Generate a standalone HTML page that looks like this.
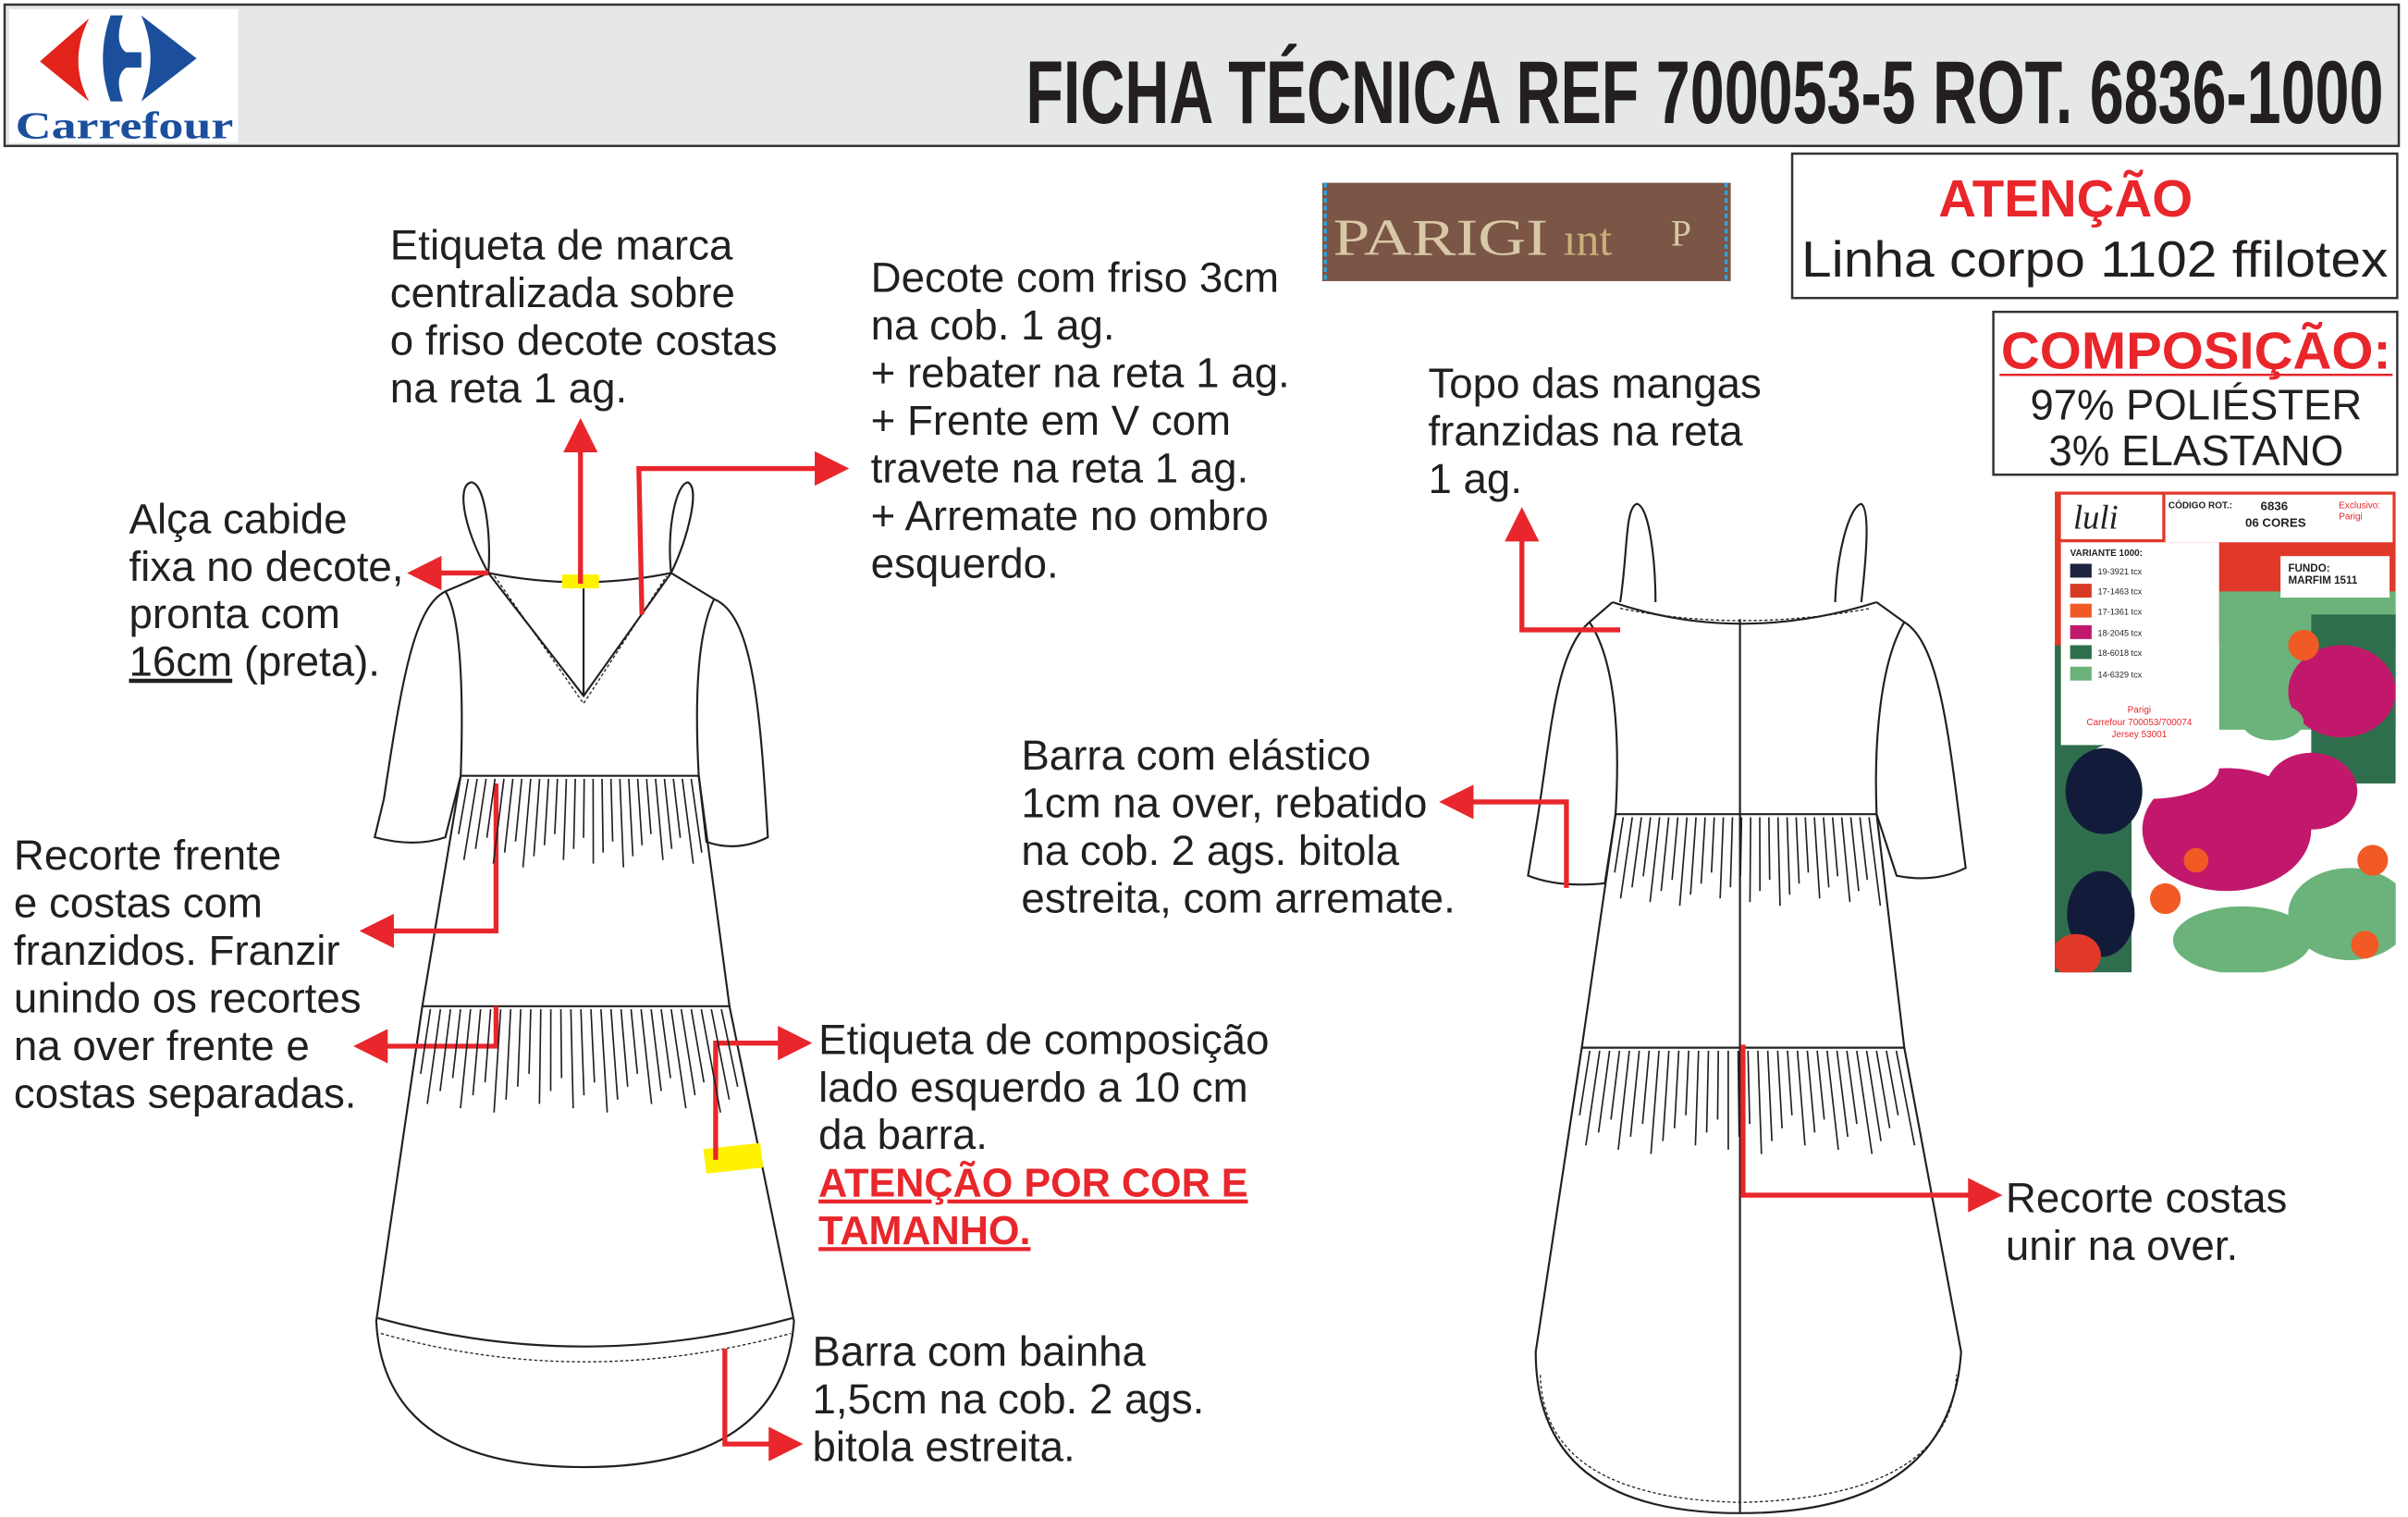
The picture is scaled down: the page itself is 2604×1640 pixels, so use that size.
<!DOCTYPE html>
<html><head><meta charset="utf-8"><style>
html,body{margin:0;padding:0;background:#fff;width:2604px;height:1640px;overflow:hidden}
svg{display:block}
text{font-family:"Liberation Sans",Arial,sans-serif;fill:#231f20}
.a{font-size:27.5px}
.r{fill:#e8262b;font-weight:bold}
</style></head><body>
<svg id="s" width="2604" height="1640" viewBox="0 0 1568 987.5" preserveAspectRatio="none" xmlns="http://www.w3.org/2000/svg">
<defs>
<marker id="ar" viewBox="0 0 10 10" refX="2" refY="5" markerWidth="7" markerHeight="7" orient="auto" markerUnits="strokeWidth"><path d="M0,0L10,5L0,10z" fill="#e8262b"/></marker>
<clipPath id="cp"><rect x="1338" y="320" width="222" height="313"/></clipPath>
</defs>
<rect x="3" y="3" width="1559" height="92" fill="#e6e7e8" stroke="#333" stroke-width="1.5"/>
<rect x="6" y="6" width="149" height="87" fill="#fff"/>
<path d="M58,12 L26,40 L58,66 Q44,40 58,12z" fill="#e2231a"/>
<path d="M72,10 Q62,38 72,66 L80,66 Q74,50 82,44 L92,44 L92,34 L82,34 Q74,28 80,10z M92,10 L128,38 L92,66 Q104,38 92,10z" fill="#1b4f9c"/>
<text x="10" y="90" style="font-family:'Liberation Serif',serif;font-weight:bold;font-size:25px;fill:#1b4f9c" textLength="142" lengthAdjust="spacingAndGlyphs">Carrefour</text>
<text x="668" y="80" style="font-weight:bold;font-size:58px" textLength="884" lengthAdjust="spacingAndGlyphs">FICHA TÉCNICA REF 700053-5 ROT. 6836-1000</text>
<rect x="861" y="119" width="266" height="64" fill="#7b5545"/>
<text x="868" y="166" style="font-family:'Liberation Serif',serif;font-size:34px;fill:#d8c8a8" textLength="140" lengthAdjust="spacingAndGlyphs">PARIGI</text>
<text x="1018" y="166" style="font-family:'Liberation Serif',serif;font-size:30px;fill:#c9b07a">ınt</text>
<text x="1088" y="160" style="font-family:'Liberation Serif',serif;font-size:24px;fill:#d8c8a8">P</text>
<line x1="863" y1="119" x2="863" y2="183" stroke="#29a8e0" stroke-width="2" stroke-dasharray="3 2"/>
<line x1="1124" y1="119" x2="1124" y2="183" stroke="#29a8e0" stroke-width="2" stroke-dasharray="3 2"/>
<rect x="1167" y="100" width="394" height="94" fill="#fff" stroke="#333" stroke-width="1.5"/>
<text x="1345" y="141" text-anchor="middle" class="r" style="font-size:34px">ATENÇÃO</text>
<text x="1364" y="180" text-anchor="middle" style="font-size:33px" textLength="382" lengthAdjust="spacingAndGlyphs">Linha corpo 1102 ffilotex</text>
<rect x="1298" y="203" width="263" height="106" fill="#fff" stroke="#333" stroke-width="1.5"/>
<text x="1430" y="240" text-anchor="middle" class="r" style="font-size:34px" textLength="254" lengthAdjust="spacingAndGlyphs">COMPOSIÇÃO:</text>
<line x1="1302" y1="244" x2="1558" y2="244" stroke="#e8262b" stroke-width="1.5"/>
<text x="1430" y="273" text-anchor="middle" style="font-size:28px" textLength="216" lengthAdjust="spacingAndGlyphs">97% POLIÉSTER</text>
<text x="1430" y="303" text-anchor="middle" style="font-size:28px" textLength="192" lengthAdjust="spacingAndGlyphs">3% ELASTANO</text>
<g clip-path="url(#cp)">
<rect x="1338" y="320" width="222" height="313" fill="#fff"/>
<rect x="1338" y="320" width="222" height="100" fill="#e0392a"/>
<rect x="1338" y="420" width="50" height="213" fill="#2f6e4c"/>
<rect x="1445" y="385" width="115" height="90" fill="#6bb37a"/>
<rect x="1505" y="400" width="55" height="110" fill="#2f6e4c"/>
<ellipse cx="1525" cy="450" rx="35" ry="30" fill="#c2186b"/>
<ellipse cx="1450" cy="540" rx="55" ry="40" fill="#c2186b"/>
<ellipse cx="1400" cy="500" rx="45" ry="20" fill="#fff"/>
<ellipse cx="1505" cy="515" rx="30" ry="25" fill="#c2186b"/>
<ellipse cx="1530" cy="595" rx="40" ry="30" fill="#6bb37a"/>
<ellipse cx="1460" cy="612" rx="45" ry="22" fill="#6bb37a"/>
<ellipse cx="1370" cy="515" rx="25" ry="28" fill="#131b3a"/>
<ellipse cx="1368" cy="595" rx="22" ry="28" fill="#131b3a"/>
<ellipse cx="1352" cy="622" rx="16" ry="14" fill="#e0392a"/>
<ellipse cx="1480" cy="470" rx="20" ry="12" fill="#6bb37a"/>
<circle cx="1410" cy="585" r="10" fill="#f15a24"/><circle cx="1500" cy="420" r="10" fill="#f15a24"/><circle cx="1545" cy="560" r="10" fill="#f15a24"/><circle cx="1430" cy="560" r="8" fill="#f15a24"/><circle cx="1540" cy="615" r="9" fill="#f15a24"/>
<rect x="1342" y="322" width="66" height="29" fill="#fff"/>
<text x="1350" y="344" style="font-family:'Liberation Serif',serif;font-style:italic;font-size:22px">luli</text>
<rect x="1410" y="322" width="148" height="31" fill="#fff"/>
<text x="1412" y="331" style="font-size:6px;font-weight:bold">CÓDIGO ROT.:</text>
<text x="1472" y="332" style="font-size:8px;font-weight:bold">6836</text>
<text x="1462" y="343" style="font-size:8px;font-weight:bold">06 CORES</text>
<text x="1523" y="331" style="font-size:6px;fill:#e8262b">Exclusivo:</text>
<text x="1523" y="338" style="font-size:6px;fill:#e8262b">Parigi</text>
<rect x="1342" y="353" width="103" height="132" fill="#fff"/>
<text x="1348" y="362" style="font-size:6px;font-weight:bold">VARIANTE 1000:</text>
<rect x="1348" y="367" width="14" height="9" fill="#1e2340"/><text x="1366" y="374" style="font-size:5.5px">19-3921 tcx</text>
<rect x="1348" y="380" width="14" height="9" fill="#d83b25"/><text x="1366" y="387" style="font-size:5.5px">17-1463 tcx</text>
<rect x="1348" y="393" width="14" height="9" fill="#f15a24"/><text x="1366" y="400" style="font-size:5.5px">17-1361 tcx</text>
<rect x="1348" y="407" width="14" height="9" fill="#c2186b"/><text x="1366" y="414" style="font-size:5.5px">18-2045 tcx</text>
<rect x="1348" y="420" width="14" height="9" fill="#2f6e4c"/><text x="1366" y="427" style="font-size:5.5px">18-6018 tcx</text>
<rect x="1348" y="434" width="14" height="9" fill="#6bb37a"/><text x="1366" y="441" style="font-size:5.5px">14-6329 tcx</text>
<text x="1393" y="464" text-anchor="middle" style="font-size:6px;fill:#e8262b">Parigi</text>
<text x="1393" y="472" text-anchor="middle" style="font-size:6px;fill:#e8262b">Carrefour 700053/700074</text>
<text x="1393" y="480" text-anchor="middle" style="font-size:6px;fill:#e8262b">Jersey 53001</text>
<rect x="1485" y="362" width="71" height="27" fill="#fff"/>
<text x="1490" y="372" style="font-size:7px;font-weight:bold">FUNDO:</text>
<text x="1490" y="380" style="font-size:7px;font-weight:bold">MARFIM 1511</text>
</g>
<g fill="none" stroke="#231f20" stroke-width="1.3">
<path d="M318,373 C300,340 298,315 307,314 C316,315 320,350 318,373"/>
<path d="M437,373 C434,345 440,315 448,314 C456,318 448,350 437,373"/>
<path d="M318,373 Q378,385 437,373"/>
<path d="M318,373 L380,453 L437,373"/>
<path d="M322,375 L380,458 L434,375" stroke-dasharray="2 1.5" stroke-width="0.8"/>
<line x1="380" y1="383" x2="380" y2="453"/>
<path d="M318,373 L290,385 C270,395 262,440 250,520 L244,545 Q270,552 290,545 L300,505"/>
<path d="M437,373 L465,390 C490,400 495,460 500,545 Q480,555 460,548 L455,505"/>
<path d="M290,385 C300,400 302,450 300,505 L455,505 C452,450 455,410 465,390"/>
<path d="M300,505 L275,655 L475,655 L455,505"/>
<path d="M275,655 L245,860 Q250,955 380,955 Q510,955 517,860 L475,655"/>
<path d="M248,868 Q380,905 515,868" stroke-dasharray="2 1.5" stroke-width="0.8"/>
<path d="M246,858 Q380,895 516,858"/>
<path d="M1055,392 C1060,360 1058,330 1066,328 C1074,330 1078,365 1078,392"/>
<path d="M1195,392 C1196,360 1204,330 1212,328 C1218,332 1215,365 1212,392"/>
<path d="M1050,392 Q1133,420 1222,392"/>
<path d="M1055,396 Q1133,412 1218,396" stroke-dasharray="2 1.5" stroke-width="0.8"/>
<line x1="1133" y1="403" x2="1133" y2="985"/>
<path d="M1050,392 L1035,405 C1012,425 1010,480 1000,540 L995,570 Q1015,578 1045,575 L1052,530"/>
<path d="M1222,392 L1240,405 C1265,420 1270,490 1280,565 Q1260,575 1235,570 L1222,530"/>
<path d="M1035,405 C1052,430 1055,480 1052,530 L1222,530 C1220,480 1225,430 1240,405"/>
<path d="M1052,530 L1030,682 L1240,682 L1222,530"/>
<path d="M1030,682 L1000,880 Q1000,985 1133,985 Q1270,985 1277,880 L1240,682"/>
<path d="M1003,895 Q1005,975 1133,978 Q1270,975 1274,895" stroke-dasharray="2 1.5" stroke-width="0.8"/>
</g>
<rect x="366" y="374" width="24" height="9" fill="#fff200"/>
<path d="M458,748 L495,744 L497,760 L460,764z" fill="#fff200"/>
<g fill="none" stroke="#e8262b" stroke-width="3.2" marker-end="url(#ar)">
<path d="M378,380 L378,290"/>
<path d="M418,400 L416,305 L535,305"/>
<path d="M318,373 L283,373"/>
<path d="M323,510 L323,606 L252,606"/>
<path d="M323,655 L323,681 L248,681"/>
<path d="M466,755 L466,679 L511,679"/>
<path d="M472,878 L472,940 L505,940"/>
<path d="M1020,578 L1020,522 L955,522"/>
<path d="M1055,410 L991,410 L991,348"/>
<path d="M1135,680 L1135,778 L1286,778"/>
</g>
<g class="a">
<text x="254" y="169">Etiqueta de marca</text><text x="254" y="200">centralizada sobre</text><text x="254" y="231">o friso decote costas</text><text x="254" y="262">na reta 1 ag.</text>
<text x="567" y="190">Decote com friso 3cm</text><text x="567" y="221">na cob. 1 ag.</text><text x="567" y="252">+ rebater na reta 1 ag.</text><text x="567" y="283">+ Frente em V com</text><text x="567" y="314">travete na reta 1 ag.</text><text x="567" y="345">+ Arremate no ombro</text><text x="567" y="376">esquerdo.</text>
<text x="930" y="259">Topo das mangas</text><text x="930" y="290">franzidas na reta</text><text x="930" y="321">1 ag.</text>
<text x="84" y="347">Alça cabide</text><text x="84" y="378">fixa no decote,</text><text x="84" y="409">pronta com</text><text x="84" y="440"><tspan text-decoration="underline">16cm</tspan> (preta).</text>
<text x="665" y="501">Barra com elástico</text><text x="665" y="532">1cm na over, rebatido</text><text x="665" y="563">na cob. 2 ags. bitola</text><text x="665" y="594">estreita, com arremate.</text>
<text x="9" y="566">Recorte frente</text><text x="9" y="597">e costas com</text><text x="9" y="628">franzidos. Franzir</text><text x="9" y="659">unindo os recortes</text><text x="9" y="690">na over frente e</text><text x="9" y="721">costas separadas.</text>
<text x="533" y="686">Etiqueta de composição</text><text x="533" y="717">lado esquerdo a 10 cm</text><text x="533" y="748">da barra.</text>
<text x="533" y="779" class="r" text-decoration="underline" style="font-size:26px">ATENÇÃO POR COR E</text><text x="533" y="810" class="r" text-decoration="underline" style="font-size:26px">TAMANHO.</text>
<text x="529" y="889">Barra com bainha</text><text x="529" y="920">1,5cm na cob. 2 ags.</text><text x="529" y="951">bitola estreita.</text>
<text x="1306" y="789">Recorte costas</text><text x="1306" y="820">unir na over.</text>
</g>
<g id="g" stroke="#231f20" stroke-width="1" fill="none"></g>
</svg>
<script>
var g=document.getElementById('g'),s='';
function tier(x1,x2,y,len,n,xl,xr,yb){for(var i=0;i<n;i++){var t=(i+0.5)/n;var x=x1+(x2-x1)*t;var xb=xl+(xr-xl)*t;var L=len*(0.6+0.4*((i*37)%10)/10);var f=L/(yb-y);s+='<line x1="'+x+'" y1="'+y+'" x2="'+(x+(xb-x)*f)+'" y2="'+(y+L)+'"/>';}}
tier(302,453,507,60,26,275,475,655);
tier(277,473,657,70,30,245,517,860);
tier(1054,1220,532,60,28,1030,1240,682);
tier(1032,1238,684,70,32,1000,1277,880);
g.innerHTML=s;
</script>
</body></html>
